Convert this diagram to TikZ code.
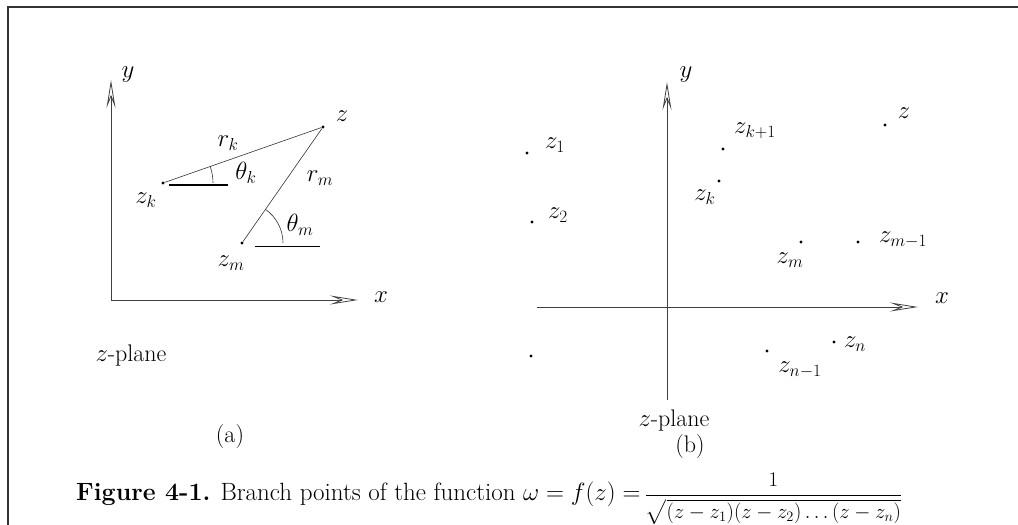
\documentclass[tikz,border=0pt]{standalone}
\usepackage{amsmath}
\usetikzlibrary{arrows.meta}
\begin{document}
\begin{tikzpicture}[x=1pt,y=1pt,
  pt/.style={circle,fill=black,inner sep=0pt,minimum size=3.2pt},
  lbl/.style={inner sep=0pt,font=\fontsize{24}{28}\selectfont},
  axis/.style={line width=0.8pt,draw=black!75,-{Stealth[open,length=28pt,width=9pt,inset=11pt]}},
  thin/.style={line width=0.6pt,draw=black!80},
  ref/.style={line width=1.2pt}]
\useasboundingbox (0,0) rectangle (1018,-525);
\draw[line width=1.8pt,draw=black!80] (8,-1040) -- (8,-7) -- (1040,-7);
% ---------- panel (a) ----------
\coordinate (oa) at (111,-300);
\coordinate (ya) at (111,-80);
\coordinate (xa) at (358,-300);
\draw[axis] (oa) -- (ya);
\draw[axis] (oa) -- (xa);
\node[lbl] (ylaba) at (128,-75) {$y$};
\node[lbl] (xlaba) at (381,-297) {$x$};
\node[pt] (zka) at (163,-183) {};
\node[pt] (za) at (323,-127) {};
\node[pt] (zma) at (242,-243) {};
\draw[thin] (zka) -- (za);
\draw[thin] (zma) -- (za);
\coordinate (hk1) at (169,-185);
\coordinate (hk2) at (228,-185);
\draw[ref] (hk1) -- (hk2);
\coordinate (hm1) at (255,-246);
\coordinate (hm2) at (320,-246);
\draw[ref,line width=0.9pt] (hm1) -- (hm2);
\draw[thin] ([shift={(0:50)}]zka.center) arc[start angle=0,end angle=19.3,radius=50];
\draw[thin] ([shift={(0:41)}]zma.center) arc[start angle=0,end angle=54.8,radius=41];
\node[lbl] (zkl) at (146,-200) {$z_k$};
\node[lbl] (zl) at (342,-116) {$z$};
\node[lbl] (zml) at (231,-263) {$z_m$};
\node[lbl] (rkl) at (228,-143) {$r_k$};
\node[lbl] (rml) at (320,-178) {$r_m$};
\node[lbl] (tkl) at (246,-173) {$\theta_k$};
\node[lbl] (tml) at (300,-225) {$\theta_m$};
\node[lbl] (pla) at (131,-356) {$z$-plane};
\node[lbl] (capa) at (230,-437) {(a)};
% ---------- panel (b) ----------
\coordinate (ybot) at (667,-400);
\coordinate (yb) at (667,-82);
\coordinate (xl) at (537,-307);
\coordinate (xb) at (918,-307);
\draw[axis] (ybot) -- (yb);
\draw[axis] (xl) -- (xb);
\node[lbl] (ylabb) at (686,-75) {$y$};
\node[lbl] (xlabb) at (942,-298) {$x$};
\node[pt] (z1) at (527,-153) {};
\node[pt] (z2) at (532,-222) {};
\node[pt] (z3) at (531,-356) {};
\node[pt] (zk1) at (723,-149) {};
\node[pt] (zk) at (719,-181) {};
\node[pt] (zb) at (885,-125) {};
\node[pt] (zm) at (801,-242) {};
\node[pt] (zm1) at (858,-242) {};
\node[pt] (zn) at (834,-342) {};
\node[pt] (zn1) at (767,-351) {};
\node[lbl] (z1l) at (555,-145) {$z_1$};
\node[lbl] (z2l) at (558,-215) {$z_2$};
\node[lbl] (zk1l) at (755,-131) {$z_{k+1}$};
\node[lbl] (zkl2) at (705,-197) {$z_k$};
\node[lbl] (zbl) at (904,-113) {$z$};
\node[lbl] (zml2) at (790,-260) {$z_m$};
\node[lbl] (zm1l) at (903,-240) {$z_{m-1}$};
\node[lbl] (znl) at (855,-344) {$z_n$};
\node[lbl] (zn1l) at (800,-370) {$z_{n-1}$};
\node[lbl] (plb) at (674,-421) {$z$-plane};
\node[lbl] (capb) at (690,-447) {(b)};
% ---------- caption ----------
\node[inner sep=0pt,font=\fontsize{25}{29}\selectfont,anchor=west] (cap) at (76,-499) {\textbf{Figure 4-1.} Branch points of the function $\omega=f(z)=$\,{\fontsize{22.5}{26}\selectfont$\dfrac{1}{\sqrt{(z-z_1)(z-z_2)\ldots(z-z_n)}}$}};
\end{tikzpicture}
\end{document}
